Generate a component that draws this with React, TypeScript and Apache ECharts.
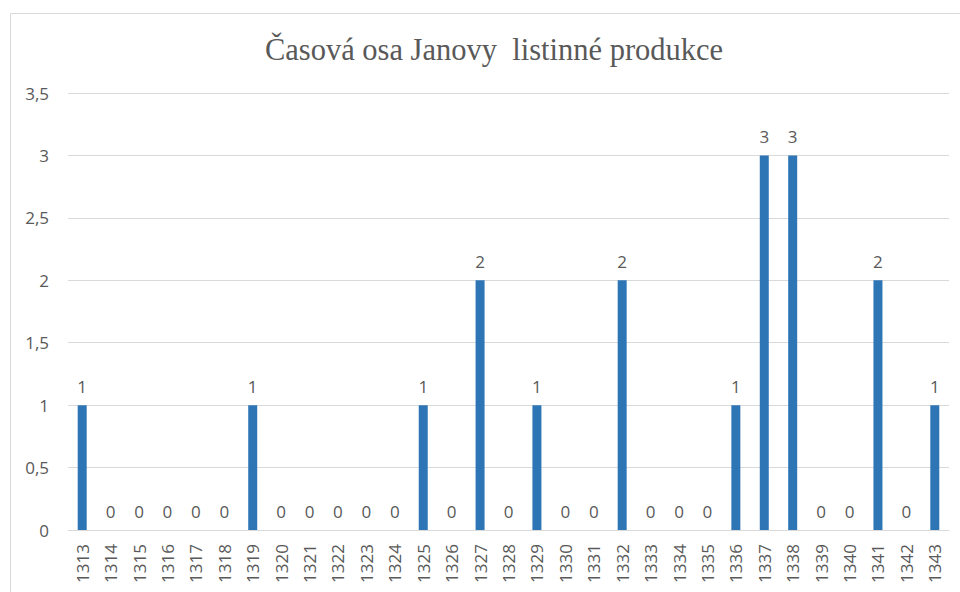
import React, { useEffect, useRef } from "react";
import * as echarts from "echarts";

const years: string[] = [
  "1313","1314","1315","1316","1317","1318","1319","1320","1321","1322","1323","1324","1325","1326","1327","1328",
  "1329","1330","1331","1332","1333","1334","1335","1336","1337","1338","1339","1340","1341","1342","1343",
];
const counts: number[] = [
  1,0,0,0,0,0,1,0,0,0,0,0,1,0,2,0,
  1,0,0,2,0,0,0,1,3,3,0,0,2,0,1,
];
const titleText = "Časová osa Janovy  listinné produkce";

export default function App() {
  const ref = useRef<HTMLDivElement>(null);
  useEffect(() => {
    document.body.style.margin = "0";
    const chart = echarts.init(ref.current!, null, { renderer: "svg" });
    const labelFont = "'Open Sans', 'Noto Sans', sans-serif";
    chart.setOption({
      animation: false,
      backgroundColor: "#ffffff",
      title: {
        text: titleText,
        left: 489,
        top: 29,
        textAlign: "center",
        textStyle: {
          fontFamily: "'Liberation Serif', 'Times New Roman', serif",
          fontSize: 30.5,
          fontWeight: "normal",
          color: "#595959",
        },
      },
      graphic: [
        {
          type: "rect",
          shape: { x: 10.5, y: 13.5, width: 970, height: 600 },
          style: { fill: "none", stroke: "#d9d9d9", lineWidth: 1 },
          silent: true,
        },
      ],
      grid: { left: 68, right: 11, top: 93, bottom: 62, containLabel: false },
      xAxis: {
        type: "category",
        data: years,
        axisLine: { lineStyle: { color: "#d9d9d9", width: 1 } },
        axisTick: { show: false },
        axisLabel: {
          rotate: 90,
          interval: 0,
          margin: 14,
          color: "#595959",
          fontSize: 17,
          fontFamily: labelFont,
        },
      },
      yAxis: {
        type: "value",
        min: 0,
        max: 3.5,
        interval: 0.5,
        axisLine: { show: false },
        axisTick: { show: false },
        splitLine: { lineStyle: { color: "#d9d9d9", width: 1 } },
        axisLabel: {
          margin: 19,
          color: "#595959",
          fontSize: 17,
          fontFamily: labelFont,
          formatter: (v: number) => String(v).replace(".", ","),
        },
      },
      series: [
        {
          type: "bar",
          data: counts,
          barWidth: 9,
          itemStyle: { color: "#2E75B6" },
          label: {
            show: true,
            position: "top",
            distance: 10,
            color: "#595959",
            fontSize: 17,
            fontFamily: labelFont,
          },
        },
      ],
    });
    return () => chart.dispose();
  }, []);
  return <div ref={ref} style={{ width: 960, height: 592 }} />;
}
